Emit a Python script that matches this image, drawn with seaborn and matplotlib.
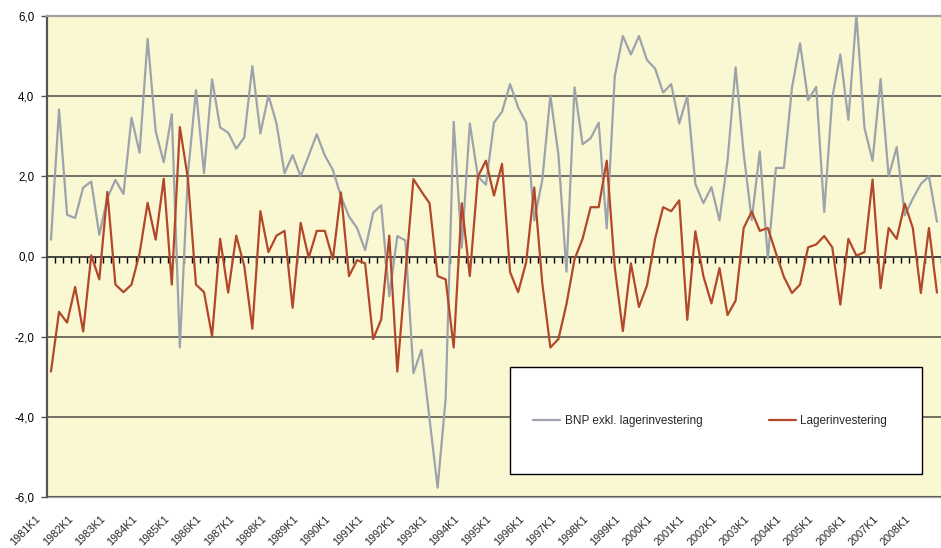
import numpy as np
import pandas as pd
import matplotlib
matplotlib.use("Agg")
import matplotlib.pyplot as plt
import seaborn as sns
from matplotlib.transforms import ScaledTranslation
from matplotlib.patches import Rectangle

# ---- data (quarterly, 1981K1 ...) ----
bnp_exkl = [0.42, 3.67, 1.04, 0.96, 1.72, 1.87, 0.54, 1.46, 1.91, 1.56,
            3.46, 2.59, 5.43, 3.12, 2.35, 3.55, -2.27, 2.05, 4.15, 2.08,
            4.42, 3.22, 3.09, 2.69, 2.97, 4.75, 3.07, 4.02, 3.32, 2.08,
            2.53, 2.00, 2.52, 3.05, 2.52, 2.16, 1.50, 1.00, 0.71, 0.16,
            1.09, 1.28, -0.99, 0.51, 0.40, -2.91, -2.33, -4.05, -5.77, -3.55,
            3.36, 0.22, 3.32, 2.00, 1.79, 3.34, 3.61, 4.30, 3.72, 3.34,
            0.90, 1.91, 4.02, 2.54, -0.38, 4.22, 2.80, 2.95, 3.34, 0.70,
            4.50, 5.50, 5.04, 5.50, 4.90, 4.69, 4.09, 4.30, 3.32, 4.00,
            1.81, 1.33, 1.73, 0.90, 2.40, 4.72, 2.57, 0.91, 2.62, -0.05,
            2.21, 2.21, 4.21, 5.32, 3.90, 4.23, 1.11, 3.97, 5.04, 3.41,
            6.03, 3.21, 2.39, 4.43, 2.00, 2.73, 1.03, 1.44, 1.81, 2.00,
            0.87]
lagerinv = [-2.87, -1.38, -1.65, -0.76, -1.87, 0.03, -0.57, 1.61, -0.70, -0.89,
            -0.70, 0.08, 1.34, 0.42, 1.94, -0.70, 3.23, 1.95, -0.70, -0.89,
            -1.99, 0.44, -0.90, 0.52, -0.24, -1.80, 1.13, 0.11, 0.52, 0.64,
            -1.28, 0.84, -0.03, 0.64, 0.64, -0.07, 1.60, -0.49, -0.09, -0.17,
            -2.06, -1.57, 0.52, -2.87, -0.45, 1.93, 1.62, 1.33, -0.49, -0.57,
            -2.27, 1.33, -0.49, 1.99, 2.39, 1.52, 2.31, -0.39, -0.89, -0.14,
            1.72, -0.67, -2.27, -2.06, -1.19, -0.07, 0.44, 1.23, 1.23, 2.39,
            -0.28, -1.86, -0.17, -1.26, -0.72, 0.44, 1.23, 1.13, 1.40, -1.58,
            0.63, -0.49, -1.17, -0.29, -1.46, -1.10, 0.71, 1.12, 0.64, 0.71,
            0.09, -0.51, -0.91, -0.70, 0.23, 0.30, 0.51, 0.23, -1.20, 0.44,
            0.02, 0.11, 1.92, -0.79, 0.71, 0.44, 1.32, 0.71, -0.91, 0.71,
            -0.90]
tick_labels = ["1981K1", "1982K1", "1983K1", "1984K1", "1985K1", "1986K1", "1987K1",
               "1988K1", "1989K1", "1990K1", "1991K1", "1992K1", "1993K1", "1994K1",
               "1995K1", "1996K1", "1997K1", "1998K1", "1999K1", "2000K1", "2001K1",
               "2002K1", "2003K1", "2004K1", "2005K1", "2006K1", "2007K1", "2008K1"]
ytick_values = [-6, -4, -2, 0, 2, 4, 6]
ytick_labels = ["-6,0", "-4,0", "-2,0", "0,0", "2,0", "4,0", "6,0"]
series_names = ["BNP exkl. lagerinvestering", "Lagerinvestering"]

sns.set_style("white")
plt.rcParams["font.family"] = ["Liberation Sans", "DejaVu Sans"]

n = len(bnp_exkl)
pos = np.arange(n)
df = pd.DataFrame({"pos": pos, series_names[0]: bnp_exkl, series_names[1]: lagerinv})

GREY = "#9DA3AD"
RED = "#B2472A"

W, H = 941, 548
fig = plt.figure(figsize=(W / 100, H / 100), dpi=100)
ax = fig.add_axes([47 / W, 1 - 497 / H, 1 - 47 / W, (497 - 16) / H])
ax.set_facecolor("#FAF7D3")

sns.lineplot(data=df, x="pos", y=series_names[0], color=GREY, lw=1.6, ax=ax,
             label=series_names[0], zorder=3)
sns.lineplot(data=df, x="pos", y=series_names[1], color=RED, lw=1.6, ax=ax,
             label=series_names[1], zorder=4)

ax.set_xlim(-0.494, 109.88)
ax.set_ylim(-6, 6)
ax.set_xlabel("")
ax.set_ylabel("")

# y axis
ax.set_yticks(ytick_values)
ax.set_yticklabels(ytick_labels)
ax.yaxis.grid(True, color="#4C4C44", lw=1.1)
ax.set_axisbelow(True)
ax.tick_params(axis="y", length=4, width=1, color="#555555", pad=5, labelsize=8.3,
               labelcolor="black", left=True)

# spines
ax.spines["right"].set_visible(False)
ax.spines["top"].set_color("#A0A0A0")
ax.spines["top"].set_linewidth(1.6)
ax.spines["left"].set_color("#555555")
ax.spines["left"].set_linewidth(1.6)
ax.spines["bottom"].set_position(("data", 0))
ax.spines["bottom"].set_color("#3A3A3A")
ax.spines["bottom"].set_linewidth(1.1)

# quarter tick marks on the zero line
ax.set_xticks([])
ax.set_xticks(pos + 0.5, minor=True)
ax.tick_params(axis="x", which="minor", length=4, width=1, color="black",
               direction="out", labelbottom=False, bottom=True)

# category labels at the bottom
sec = ax.secondary_xaxis("bottom")
sec.set_xticks(pos[::4][:len(tick_labels)], labels=tick_labels)
sec.spines["bottom"].set_color("#A0A0A0")
sec.spines["bottom"].set_linewidth(1.6)
sec.tick_params(axis="x", length=0, pad=14.5, labelsize=7.8)
offset = ScaledTranslation(-12 / 100, 0, fig.dpi_scale_trans)
for lbl in sec.get_xticklabels():
    lbl.set_rotation(45)
    lbl.set_ha("right")
    lbl.set_va("center")
    lbl.set_rotation_mode("anchor")
    lbl.set_transform(lbl.get_transform() + offset)

# legend box (white panel with black border) and legend entries
box = Rectangle((510 / W, 1 - 474 / H), (922 - 510) / W, (474 - 367) / H,
                transform=fig.transFigure, facecolor="white", edgecolor="black",
                lw=1.0, zorder=9, clip_on=False)
ax.add_patch(box)
handles, labels = ax.get_legend_handles_labels()
leg = ax.legend(handles, labels, loc="center left",
                bbox_to_anchor=(533 / W, 1 - 421 / H), bbox_transform=fig.transFigure,
                ncol=2, frameon=False, borderpad=0, borderaxespad=0,
                handlelength=2.3, handletextpad=0.4, columnspacing=5.6,
                fontsize=8.5)
leg.set_zorder(10)

fig.savefig("out.png", dpi=100, facecolor="white")
